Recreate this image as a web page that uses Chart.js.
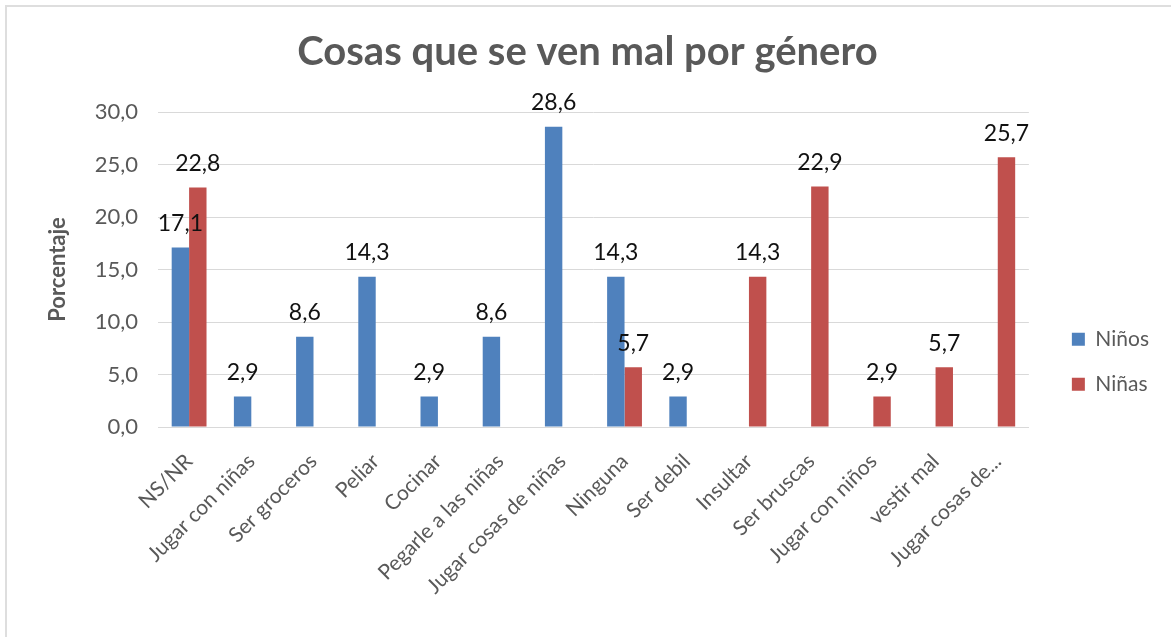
<!DOCTYPE html>
<html>
<head>
<meta charset="utf-8">
<script src="https://cdn.jsdelivr.net/npm/chart.js@4.4.0/dist/chart.umd.min.js"></script>
<style>
  body { margin: 0; background: #fff; }
  .wrap { position: relative; width: 1171px; height: 637px; }
  .frame { position: absolute; left: 5px; top: 5px; right: -10px; bottom: -10px;
           border-left: 2px solid #dedede; border-top: 2px solid #dedede; pointer-events: none; }
</style>
</head>
<body>
<div class="wrap">
  <canvas id="myChart" width="1171" height="637"></canvas>
  <div class="frame"></div>
</div>
<script>
const categories = [
  'NS/NR', 'Jugar con niñas', 'Ser groceros', 'Peliar', 'Cocinar',
  'Pegarle a las niñas', 'Jugar cosas de niñas', 'Ninguna', 'Ser debil',
  'Insultar', 'Ser bruscas', 'Jugar con niños', 'vestir mal', 'Jugar cosas de...'
];
const ninos = [17.1, 2.9, 8.6, 14.3, 2.9, 8.6, 28.6, 14.3, 2.9, null, null, null, null, null];
const ninas = [22.8, null, null, null, null, null, null, 5.7, null, 14.3, 22.9, 2.9, 5.7, 25.7];
const yTicks = [0, 5, 10, 15, 20, 25, 30];

const grey = '#595959';
const font = 'Lato, "Open Sans", sans-serif';
const fmt = v => v.toFixed(1).replace('.', ',');

// etiquetas de valor encima de cada barra
const valueLabels = {
  id: 'valueLabels',
  afterDatasetsDraw(chart) {
    const ctx = chart.ctx;
    ctx.save();
    ctx.font = '23px ' + font;
    ctx.fillStyle = '#111';
    ctx.textAlign = 'center';
    ctx.textBaseline = 'middle';
    chart.data.datasets.forEach((ds, i) => {
      chart.getDatasetMeta(i).data.forEach((bar, j) => {
        if (ds.data[j] == null) return;
        ctx.fillText(fmt(ds.data[j]), bar.x, bar.y - 24);
      });
    });
    ctx.restore();
  }
};

new Chart(document.getElementById('myChart'), {
  type: 'bar',
  data: {
    labels: categories,
    datasets: [
      { label: 'Niños', data: ninos, backgroundColor: '#4F81BD' },
      { label: 'Niñas', data: ninas, backgroundColor: '#C0504D' }
    ]
  },
  options: {
    responsive: false,
    animation: false,
    categoryPercentage: 0.56,
    barPercentage: 1.0,
    layout: { padding: { left: 16, right: 12, top: 0, bottom: 0 } },
    plugins: {
      title: {
        display: true,
        text: 'Cosas que se ven mal por género',
        color: grey,
        font: { family: font, size: 40, weight: 'bold', lineHeight: 1.2 },
        padding: { top: 28, bottom: 36 }
      },
      legend: {
        position: 'right',
        // titulo vacio solo para bajar la leyenda
        title: { display: true, text: '', padding: { top: 72, bottom: 0 } },
        labels: {
          color: grey,
          boxWidth: 13,
          boxHeight: 13,
          padding: 24,
          font: { family: font, size: 21 }
        }
      },
      tooltip: { enabled: false }
    },
    scales: {
      x: {
        grid: { display: false },
        border: { display: true, color: '#d9d9d9' },
        ticks: {
          color: grey, autoSkip: false, minRotation: 45, maxRotation: 45, padding: 14,
          font: { family: font, size: 21 }
        },
        afterFit: s => { s.height = 210; }
      },
      y: {
        min: 0, max: 30,
        afterBuildTicks: s => { s.ticks = yTicks.map(v => ({ value: v })); },
        grid: { color: '#d9d9d9', drawTicks: false },
        border: { display: false },
        ticks: {
          color: grey, padding: 20,
          font: { family: font, size: 22 },
          callback: v => fmt(v)
        },
        title: {
          display: true, text: 'Porcentaje', color: grey,
          font: { family: font, size: 22, weight: 'bold' },
          padding: { top: 29 }
        },
        afterFit: s => { s.width = 142; }
      },
      spacer: {
        type: 'linear', axis: 'y', position: 'right', display: true,
        grid: { display: false }, border: { display: false },
        ticks: { display: false },
        afterFit: s => { s.width = 19; }
      }
    }
  },
  plugins: [valueLabels]
});
</script>
</body>
</html>
